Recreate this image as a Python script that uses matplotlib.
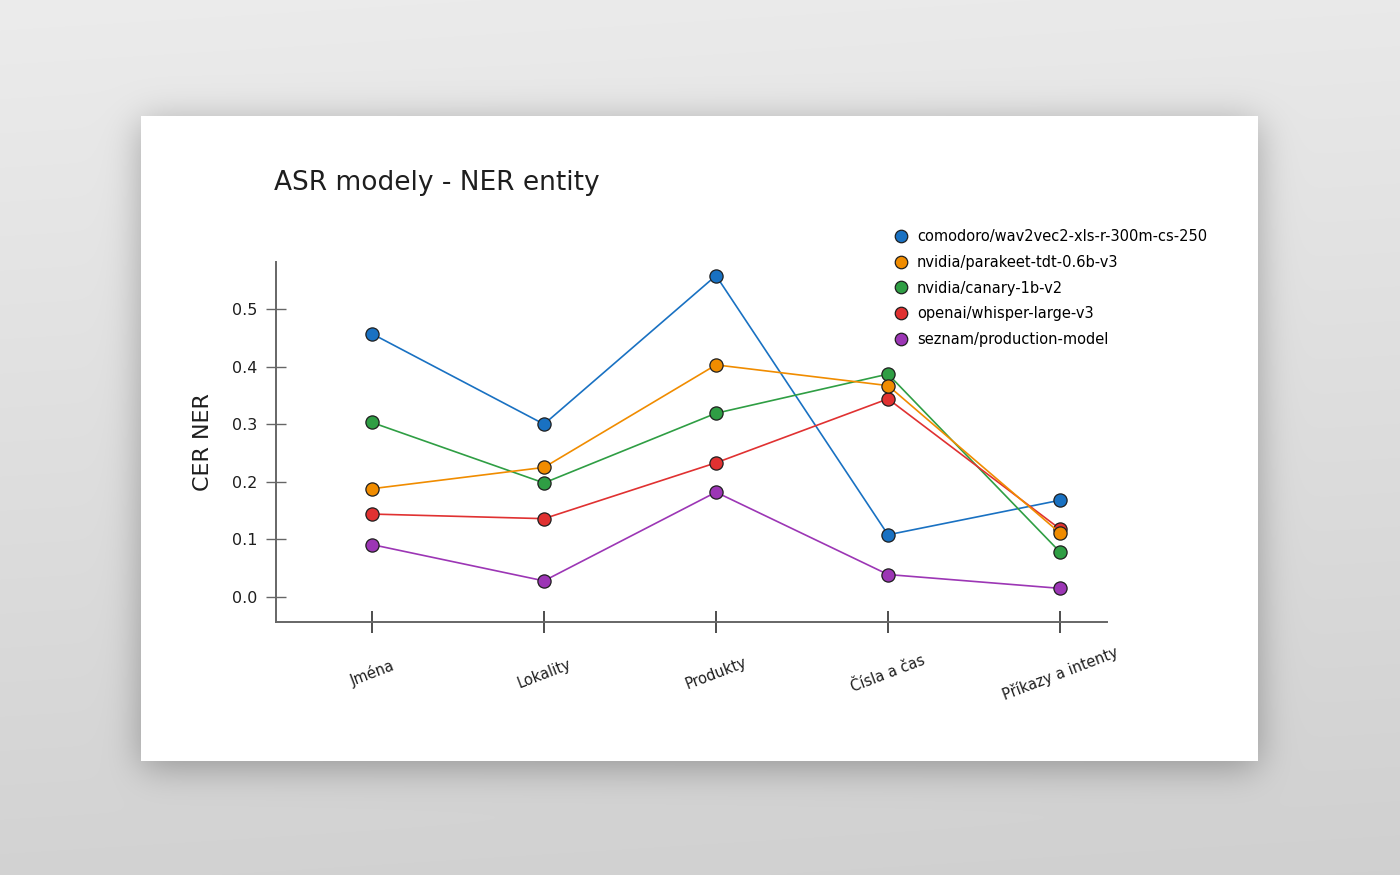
import numpy as np
import matplotlib
matplotlib.use('Agg')
import matplotlib.pyplot as plt
from matplotlib.patches import Rectangle
from matplotlib.lines import Line2D

plt.rcParams['font.family'] = ['DejaVu Sans']

# --- data ---
CATEGORIES = ["Jména", "Lokality", "Produkty", "Čísla a čas", "Příkazy a intenty"]
MODELS = [
    "comodoro/wav2vec2-xls-r-300m-cs-250",
    "nvidia/parakeet-tdt-0.6b-v3",
    "nvidia/canary-1b-v2",
    "openai/whisper-large-v3",
    "seznam/production-model",
]
COMODORO = [0.457, 0.300, 0.558, 0.108, 0.168]
PARAKEET = [0.188, 0.225, 0.403, 0.367, 0.111]
CANARY = [0.303, 0.198, 0.319, 0.387, 0.078]
WHISPER = [0.144, 0.136, 0.233, 0.344, 0.118]
SEZNAM = [0.091, 0.028, 0.182, 0.039, 0.015]
Y_TICKS = [0.0, 0.1, 0.2, 0.3, 0.4, 0.5]

SERIES = [COMODORO, PARAKEET, CANARY, WHISPER, SEZNAM]
COLORS = ["#1971c2", "#f08c00", "#2f9e44", "#e03131", "#9c36b5"]
ZORDERS = [3, 6, 4, 5, 3]

W, H = 1400, 875
CARD = (141, 116, 1258, 761)  # left, top, right, bottom in px


def blurred_box(n, lo, hi, sigma):
    box = np.zeros(n)
    box[lo:hi] = 1.0
    k = np.arange(-4 * sigma, 4 * sigma + 1)
    kern = np.exp(-0.5 * (k / sigma) ** 2)
    kern /= kern.sum()
    return np.convolve(box, kern, mode='same')


fig = plt.figure(figsize=(W / 100, H / 100), dpi=100)

# background with soft shadow under the card
bg = fig.add_axes([0, 0, 1, 1])
yy = np.arange(H)[:, None] / H
xx = np.arange(W)[None, :] / W
base = 0.925 - 0.10 * yy - 0.01 * xx
sh = blurred_box(H, CARD[1] + 6, CARD[3] + 6, 18)[:, None] * blurred_box(W, CARD[0], CARD[2], 18)[None, :]
img = np.clip(base - 0.26 * sh, 0, 1)
bg.imshow(np.dstack([img] * 3), extent=(0, W, H, 0), aspect='auto', interpolation='bilinear')
bg.add_patch(Rectangle((CARD[0], CARD[1]), CARD[2] - CARD[0], CARD[3] - CARD[1],
                       facecolor='white', edgecolor='none'))
bg.set_xlim(0, W)
bg.set_ylim(H, 0)
bg.axis('off')

# main chart
ax = fig.add_axes([276 / W, 1 - 622 / H, (1107 - 276) / W, (622 - 262) / H])
ax.set_facecolor('none')
x = np.arange(len(CATEGORIES))
for vals, color, z in zip(SERIES, COLORS, ZORDERS):
    ax.plot(x, vals, color=color, lw=1.2, marker='o', markersize=9.5, zorder=z,
            markerfacecolor=color, markeredgecolor='#1e1e1e', markeredgewidth=0.9)

ax.set_xlim(-0.558, 4.273)
ax.set_ylim(-0.0434, 0.5816)
ax.set_xticks(x)
ax.set_xticklabels(CATEGORIES, rotation=21, ha='center', va='center',
                   rotation_mode='anchor', fontsize=10.5, color='#1e1e1e')
ax.set_yticks(Y_TICKS)
ax.set_yticklabels([f"{v:.1f}" for v in Y_TICKS], fontsize=11.5, color='#1e1e1e')
ax.tick_params(axis='x', direction='inout', length=16.5, width=1.1, color='#1e1e1e', pad=29)
ax.tick_params(axis='y', direction='inout', length=14.5, width=1.0, color='#666666', pad=6)
for side in ('top', 'right'):
    ax.spines[side].set_visible(False)
for side in ('left', 'bottom'):
    ax.spines[side].set_color('#666666')
    ax.spines[side].set_linewidth(1.4)

ax.set_ylabel("CER NER", fontsize=16, color='#1e1e1e', labelpad=14)

fig.text(274 / W, 1 - 183 / H, "ASR modely - NER entity", fontsize=19,
         color='#1e1e1e', ha='left', va='center')

handles = [Line2D([], [], ls='none', marker='o', markersize=9, markerfacecolor=c,
                  markeredgecolor='#1e1e1e', markeredgewidth=0.9) for c in COLORS]
fig.legend(handles, MODELS, loc='upper left', bbox_to_anchor=(895 / W, 1 - 229 / H),
           frameon=False, fontsize=10.5, handlelength=0.8, handletextpad=0.7,
           labelspacing=0.74, borderaxespad=0, borderpad=0)

fig.savefig("out.png", dpi=100)
